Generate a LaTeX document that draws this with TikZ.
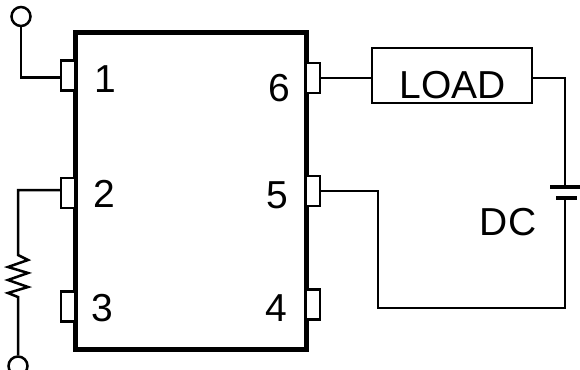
\documentclass[tikz,border=0pt]{standalone}
\usepackage{fontspec}
\setmainfont{Liberation Sans}
\tikzset{
  pin/.style={draw,line width=2.5pt,fill=white,inner sep=0pt,minimum width=14pt,minimum height=30pt},
  term/.style={draw,circle,line width=2.5pt,inner sep=0pt,minimum size=19pt},
  wire/.style={line width=2.5pt,line join=miter},
  plate/.style={line width=4.5pt},
  lbl/.style={inner sep=0pt,font=\fontsize{39}{39}\selectfont}
}
\begin{document}
\begin{tikzpicture}[x=1pt,y=-1pt]
     \useasboundingbox (0,0) rectangle (580,369);
     \node [draw,line width=5pt,inner sep=0pt,minimum width=231pt,minimum height=316pt] at (190.5,191) (IC) {};

     \node [pin] at (68,75.5) (P1) {};
     \node [pin] at (68,193) (P2) {};
     \node [pin] at (68,306.5) (P3) {};
     \node [pin] at (313,78) (P6) {};
     \node [pin] at (313,191) (P5) {};
     \node [pin] at (313,304.5) (P4) {};

     \node [lbl] at (105,79) (N1) {1};
     \node [lbl] at (104,194) (N2) {2};
     \node [lbl] at (102,308) (N3) {3};
     \node [lbl] at (279,88) (N6) {6};
     \node [lbl] at (277,195) (N5) {5};
     \node [lbl] at (276,308) (N4) {4};

     \node [draw,line width=2.5pt,inner sep=0pt,minimum width=160pt,minimum height=55pt] at (452,75.5) (LOAD) {};
     \node [lbl] at (452.5,85) (LT) {LOAD};
     \node [lbl] at (508,222) (DC) {DC};

     \node [term] at (21,16.5) (T1) {};
     \node [term] at (18,366) (T2) {};
     \coordinate (B1) at (565,187);
     \coordinate (B2) at (565,198);
     \draw [plate] (550,187) -- (B1) -- (580,187);
     \draw [plate] (556,198) -- (B2) -- (577,198);

     % wires
     \draw [wire] (T1.south) |- ([yshift=-2pt]P1.west);
     \coordinate (R1) at (18,255);
     \coordinate (R2) at (18,297);
     \draw [wire] ([yshift=3pt]P2.west) -| (R1)
        -- (28,260) -- (8,267) -- (28,273) -- (8,280) -- (28,287) -- (8,293) -- (R2) -- (T2.north);
     \draw [wire] (P6.east) -- (P6.east -| LOAD.west);
     \draw [wire] ([yshift=-2.5pt]LOAD.east) -| (B1);
     \draw [wire] (B2) |- (378,308) |- (P5.east);
\end{tikzpicture}
\end{document}
